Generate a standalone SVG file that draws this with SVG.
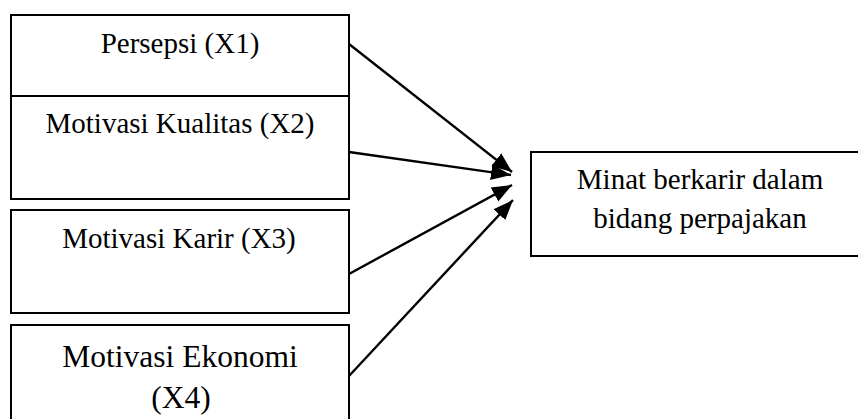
<svg xmlns="http://www.w3.org/2000/svg" width="858" height="419" viewBox="0 0 858 419">
<style>
.box{fill:#fff;stroke:#000;stroke-width:2}
.t{font-family:"Liberation Serif","Times New Roman",serif;font-size:29px;fill:#000;text-anchor:middle}
.t2{font-size:31.5px}
.c{stroke:#000;stroke-width:2.4;fill:none;marker-end:url(#ah)}
</style>
<defs>
<marker id="ah" markerUnits="userSpaceOnUse" markerWidth="22" markerHeight="18" refX="20" refY="8" orient="auto" viewBox="0 0 22 16">
<path d="M0,0 L20,8 L0,16 Z" fill="#000"/>
</marker>
</defs>
<rect width="858" height="419" fill="#fff"/>
<g id="x1"><rect class="box" x="11" y="15" width="338" height="81"/><text class="t" x="180" y="53">Persepsi (X1)</text></g>
<g id="x2"><rect class="box" x="11" y="96" width="338" height="103"/><text class="t" x="180" y="133">Motivasi Kualitas (X2)</text></g>
<g id="x3"><rect class="box" x="11" y="210" width="338" height="103"/><text class="t" x="179" y="248">Motivasi Karir (X3)</text></g>
<g id="x4"><rect class="box" x="11" y="325" width="338" height="110"/><text class="t t2" x="180" y="367">Motivasi Ekonomi</text><text class="t t2" x="181" y="408">(X4)</text></g>
<g id="y"><rect class="box" x="531" y="152" width="340" height="104"/><text class="t" x="700" y="189">Minat berkarir dalam</text><text class="t" x="700" y="228">bidang perpajakan</text></g>
<g id="connectors">
<line class="c" x1="349" y1="44" x2="512" y2="172"/>
<line class="c" x1="349" y1="152" x2="511" y2="175"/>
<line class="c" x1="349" y1="274" x2="512" y2="185"/>
<line class="c" x1="349" y1="376" x2="513" y2="200"/>
</g>
</svg>
